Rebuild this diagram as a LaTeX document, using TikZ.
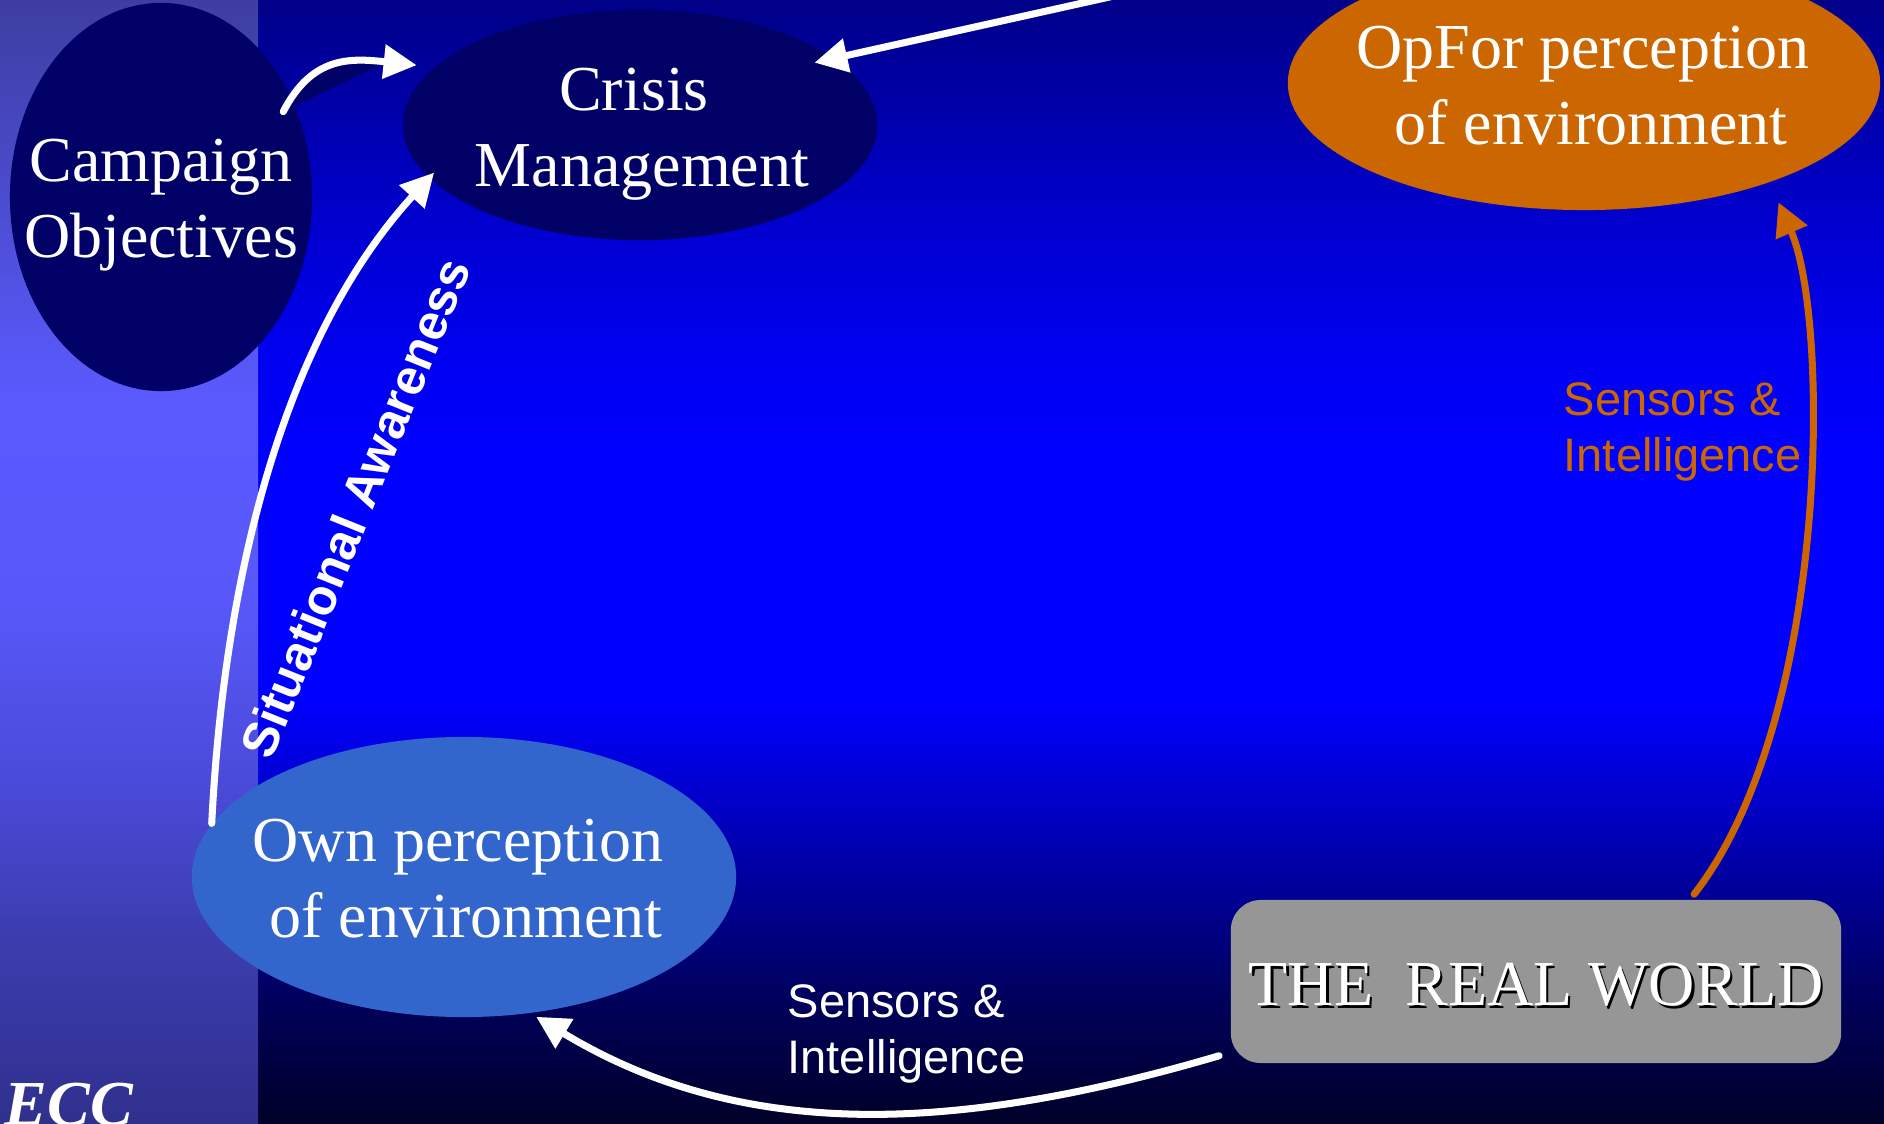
\documentclass[tikz,border=0pt]{standalone}
\usepackage{fontspec}
\setmainfont{Liberation Serif}
\setsansfont{Liberation Sans}
\usepackage{tikz}
\usetikzlibrary{shapes.geometric, arrows.meta, positioning}
\definecolor{navyfill}{HTML}{000066}
\definecolor{ownfill}{HTML}{3366CC}
\definecolor{opforfill}{HTML}{CC6600}
\definecolor{worldfill}{HTML}{969696}
% background stops, top to bottom
\definecolor{bga}{HTML}{000088}
\definecolor{bgb}{HTML}{0000CC}
\definecolor{bgc}{HTML}{0000F0}
\definecolor{bgd}{HTML}{0000FF}
\definecolor{bge}{HTML}{0000D0}
\definecolor{bgf}{HTML}{000095}
\definecolor{bgg}{HTML}{00005A}
\definecolor{bgh}{HTML}{000028}
\definecolor{stripa}{HTML}{3E3EA2}
\definecolor{stripb}{HTML}{5A5AFF}
\definecolor{stripc}{HTML}{5858FA}
\definecolor{stripd}{HTML}{4A4AD8}
\definecolor{stripe}{HTML}{3D3DB0}
\definecolor{stripf}{HTML}{30308E}
\pgfdeclareverticalshading{backdrop}{100bp}{color(0bp)=(bgh); color(25bp)=(bgh); color(30.38bp)=(bgg); color(35.14bp)=(bgf); color(39.95bp)=(bge); color(43.86bp)=(bgd); color(54.98bp)=(bgd); color(59.07bp)=(bgc); color(65.44bp)=(bgb); color(75bp)=(bga); color(100bp)=(bga)}
\pgfdeclareverticalshading{stripshade}{100bp}{color(0bp)=(stripf); color(25bp)=(stripf); color(33.54bp)=(stripe); color(39.95bp)=(stripd); color(48.31bp)=(stripc); color(57.21bp)=(stripb); color(75bp)=(stripa); color(100bp)=(stripa)}
\tikzstyle{blob} = [ellipse, inner sep=0pt]
\tikzstyle{worldbox} = [rectangle, rounded corners=0.3cm, minimum width=6.1cm, minimum height=1.63cm, fill=worldfill]
\tikzstyle{bigtext} = [text=white, align=center, inner sep=0pt, font=\fontsize{18.21pt}{21.62pt}\selectfont]
\tikzstyle{labeltext} = [align=left, inner sep=0pt, anchor=west, font=\sffamily\fontsize{13.37pt}{15.93pt}\selectfont]
\tikzstyle{arrow} = [line width=2pt, ->, >={Triangle[length=0.33cm,width=0.33cm]}, line cap=round]

\begin{document}
\begin{tikzpicture}[x=0.01cm, y=-0.01cm]
\useasboundingbox (0,0) rectangle (1884,1124);
% background
\shade[shading=backdrop] (258,0) rectangle (1884,1124);
\shade[shading=stripshade] (0,0) rectangle (258,1124);

% ellipses and box
\node (camp) [blob, minimum width=3.02cm, minimum height=3.88cm, fill=navyfill] at (161,197) {};
\node (crisis) [blob, minimum width=4.74cm, minimum height=2.30cm, fill=navyfill] at (640,125) {};
\node (opfor) [blob, minimum width=5.92cm, minimum height=2.54cm, fill=opforfill] at (1584,83) {};
\node (own) [blob, minimum width=5.44cm, minimum height=2.80cm, fill=ownfill] at (464,877) {};
\node (world) [worldbox] at (1536,981.5) {};

% connectors
\draw [arrow, white, fill=navyfill] ([xshift=-0.11cm,yshift=-0.08cm]camp.35) .. controls (312,56) and (350,58) .. ([xshift=-0.15cm,yshift=0.04cm]crisis.165);
\coordinate (topin) at (1123,-6);
\draw [arrow, white] (topin) -- ([xshift=-0.16cm,yshift=-0.07cm]crisis.20);
\draw [arrow, white] (own.168) .. controls (225,560) and (290,330) .. ([xshift=0.09cm,yshift=0.02cm]crisis.193);
\draw [arrow, white] ([xshift=-0.11cm,yshift=0.08cm]world.south west) .. controls (950,1135) and (740,1140) .. ([yshift=-0.04cm]own.298);
\draw [arrow, opforfill] ([xshift=1.58cm,yshift=0.05cm]world.north) .. controls (1830,720) and (1830,320) .. ([xshift=0.26cm,yshift=-0.14cm]opfor.328);

% texts
\node (camptext) [bigtext] at (161,205) {Campaign\\Objectives};
\node (crisistext) [bigtext] at (642,134) {Crisis\hspace*{0.25em}\\Management};
\node (opfortext) [bigtext] at (1591,86) {OpFor perception\hspace*{0.25em}\\of environment};
\node (owntext) [bigtext] at (466,879) {Own perception\hspace*{0.25em}\\of environment};
\node (worldshadow) [bigtext, text=black] at (1538.5,987.5) {THE\ \ REAL WORLD};
\node (worldtext) [bigtext] at (1536,985) {THE\ \ REAL WORLD};
\node (ecc) [bigtext, anchor=base west, font=\bfseries\itshape\fontsize{18.21pt}{21.62pt}\selectfont] at (4,1125) {ECC};
\node (satext) [rotate=68, text=white, inner sep=0pt, font=\sffamily\bfseries\fontsize{14.23pt}{17pt}\selectfont] at (355,508) {Situational Awareness};
\node (sensors) [labeltext, text=white] at (787,1034) {Sensors \&\\Intelligence};
\node (opforsensors) [labeltext, text=opforfill] at (1563,432) {Sensors \&\\Intelligence};
\end{tikzpicture}
\end{document}
